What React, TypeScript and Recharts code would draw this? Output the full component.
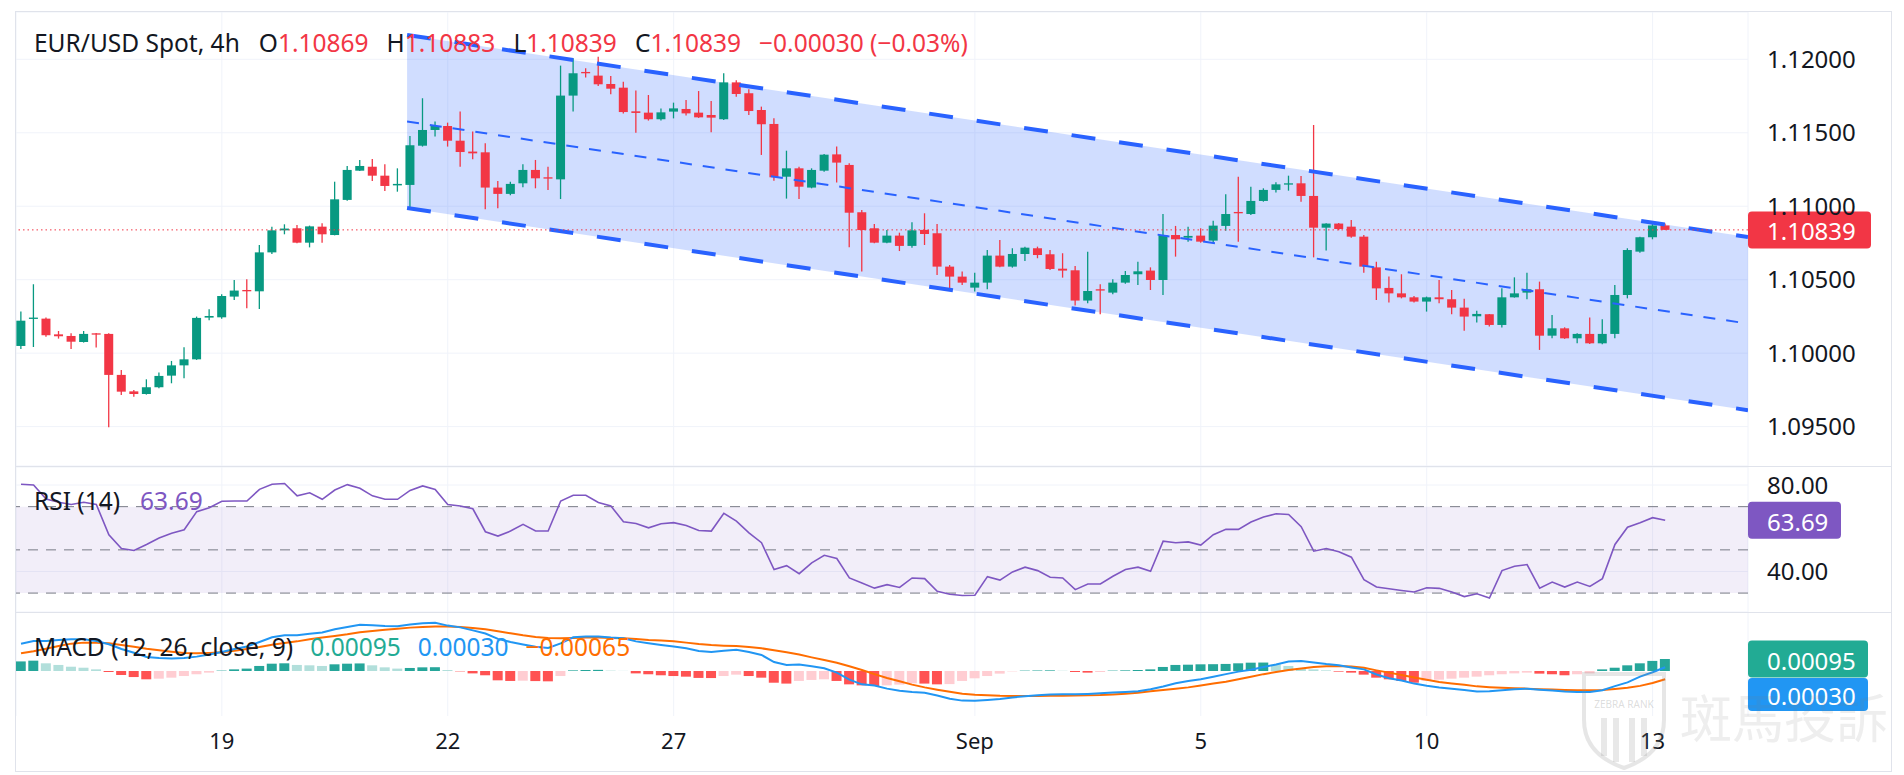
import React from 'react';
import {
  ComposedChart, Bar, Line, Area, XAxis, YAxis, CartesianGrid,
  ReferenceLine, ReferenceArea, Cell,
} from 'recharts';

// EUR/USD 4h candles, one per bar index (0 = first visible bar, 131 = last)
const opens = [
  1.10049, 1.10233, 1.10235, 1.10128, 1.10117, 1.10076, 1.10135, 1.10131, 1.09852, 1.09740,
  1.09722, 1.09768, 1.09847, 1.09917, 1.09958, 1.10242, 1.10244, 1.10385, 1.10430, 1.10421,
  1.10686, 1.10836, 1.10850, 1.10752, 1.10861, 1.10804, 1.11043, 1.11242, 1.11269, 1.11208,
  1.11142, 1.11145, 1.11412, 1.11519, 1.11546, 1.11446, 1.11372, 1.11367, 1.11127, 1.11084,
  1.11156, 1.11247, 1.11197, 1.11183, 1.11753, 1.11914, 1.11889, 1.11832, 1.11807, 1.11646,
  1.11637, 1.11592, 1.11644, 1.11662, 1.11637, 1.11621, 1.11592, 1.11843, 1.11769, 1.11655,
  1.11560, 1.11201, 1.11258, 1.11127, 1.11242, 1.11353, 1.11281, 1.10959, 1.10850, 1.10752,
  1.10800, 1.10730, 1.10839, 1.10816, 1.10589, 1.10521, 1.10446, 1.10480, 1.10664, 1.10589,
  1.10675, 1.10714, 1.10673, 1.10575, 1.10564, 1.10358, 1.10435, 1.10412, 1.10480, 1.10537,
  1.10562, 1.10498, 1.10804, 1.10786, 1.10800, 1.10766, 1.10866, 1.10961, 1.10947, 1.11036,
  1.11111, 1.11149, 1.11156, 1.11070, 1.10854, 1.10882, 1.10861, 1.10793, 1.10584, 1.10444,
  1.10407, 1.10380, 1.10351, 1.10380, 1.10367, 1.10310, 1.10251, 1.10265, 1.10192, 1.10380,
  1.10412, 1.10435, 1.10119, 1.10169, 1.10101, 1.10131, 1.10067, 1.10131, 1.10396, 1.10691,
  1.10789, 1.10869,
];
const highs = [
  1.10283, 1.10469, 1.10242, 1.10151, 1.10135, 1.10151, 1.10137, 1.10135, 1.09886, 1.09750,
  1.09822, 1.09868, 1.09947, 1.10040, 1.10249, 1.10299, 1.10401, 1.10498, 1.10503, 1.10736,
  1.10861, 1.10877, 1.10872, 1.10868, 1.10884, 1.11167, 1.11274, 1.11315, 1.11322, 1.11285,
  1.11258, 1.11478, 1.11735, 1.11576, 1.11569, 1.11644, 1.11508, 1.11428, 1.11172, 1.11167,
  1.11285, 1.11315, 1.11269, 1.11957, 1.12007, 1.11939, 1.12018, 1.11887, 1.11848, 1.11787,
  1.11757, 1.11666, 1.11705, 1.11723, 1.11784, 1.11716, 1.11905, 1.11857, 1.11796, 1.11678,
  1.11598, 1.11378, 1.11269, 1.11258, 1.11356, 1.11406, 1.11292, 1.10975, 1.10879, 1.10839,
  1.10820, 1.10891, 1.10952, 1.10879, 1.10600, 1.10555, 1.10548, 1.10702, 1.10770, 1.10714,
  1.10725, 1.10725, 1.10702, 1.10680, 1.10593, 1.10691, 1.10469, 1.10503, 1.10559, 1.10623,
  1.10584, 1.10947, 1.10866, 1.10861, 1.10850, 1.10902, 1.11081, 1.11201, 1.11133, 1.11122,
  1.11164, 1.11208, 1.11206, 1.11553, 1.10884, 1.10886, 1.10907, 1.10804, 1.10623, 1.10521,
  1.10537, 1.10389, 1.10385, 1.10498, 1.10430, 1.10371, 1.10289, 1.10267, 1.10441, 1.10516,
  1.10548, 1.10487, 1.10260, 1.10176, 1.10135, 1.10242, 1.10230, 1.10464, 1.10714, 1.10793,
  1.10880, 1.10883,
];
const lows = [
  1.10029, 1.10042, 1.10112, 1.10099, 1.10029, 1.10072, 1.10038, 1.09495, 1.09716, 1.09704,
  1.09718, 1.09761, 1.09795, 1.09829, 1.09954, 1.10224, 1.10235, 1.10362, 1.10305, 1.10301,
  1.10675, 1.10809, 1.10748, 1.10720, 1.10752, 1.10802, 1.11038, 1.11240, 1.11172, 1.11104,
  1.11099, 1.10975, 1.11406, 1.11474, 1.11406, 1.11269, 1.11319, 1.10979, 1.10986, 1.11074,
  1.11129, 1.11122, 1.11111, 1.11049, 1.11644, 1.11877, 1.11818, 1.11762, 1.11632, 1.11501,
  1.11583, 1.11583, 1.11598, 1.11617, 1.11601, 1.11503, 1.11587, 1.11746, 1.11621, 1.11349,
  1.11174, 1.11052, 1.11049, 1.11122, 1.11235, 1.11161, 1.10720, 1.10555, 1.10748, 1.10748,
  1.10695, 1.10718, 1.10736, 1.10532, 1.10441, 1.10464, 1.10419, 1.10435, 1.10584, 1.10582,
  1.10627, 1.10646, 1.10566, 1.10514, 1.10324, 1.10339, 1.10265, 1.10401, 1.10473, 1.10464,
  1.10430, 1.10396, 1.10657, 1.10759, 1.10752, 1.10748, 1.10834, 1.10759, 1.10941, 1.11031,
  1.11093, 1.11106, 1.11031, 1.10652, 1.10698, 1.10836, 1.10786, 1.10548, 1.10362, 1.10344,
  1.10373, 1.10344, 1.10283, 1.10339, 1.10265, 1.10153, 1.10208, 1.10181, 1.10174, 1.10378,
  1.10367, 1.10022, 1.10101, 1.10097, 1.10067, 1.10063, 1.10060, 1.10101, 1.10373, 1.10684,
  1.10775, 1.10839,
];
const closes = [
  1.10221, 1.10242, 1.10122, 1.10115, 1.10078, 1.10131, 1.10128, 1.09852, 1.09738, 1.09722,
  1.09768, 1.09845, 1.09917, 1.09958, 1.10240, 1.10253, 1.10389, 1.10426, 1.10421, 1.10686,
  1.10836, 1.10848, 1.10752, 1.10863, 1.10809, 1.11047, 1.11247, 1.11274, 1.11208, 1.11138,
  1.11152, 1.11415, 1.11519, 1.11546, 1.11446, 1.11369, 1.11360, 1.11127, 1.11084, 1.11152,
  1.11247, 1.11190, 1.11188, 1.11753, 1.11905, 1.11905, 1.11830, 1.11800, 1.11641, 1.11635,
  1.11592, 1.11639, 1.11666, 1.11632, 1.11605, 1.11603, 1.11843, 1.11764, 1.11648, 1.11558,
  1.11197, 1.11258, 1.11133, 1.11247, 1.11351, 1.11297, 1.10956, 1.10838, 1.10752, 1.10800,
  1.10730, 1.10836, 1.10811, 1.10589, 1.10521, 1.10480, 1.10480, 1.10664, 1.10589, 1.10675,
  1.10718, 1.10668, 1.10573, 1.10562, 1.10358, 1.10423, 1.10426, 1.10480, 1.10532, 1.10557,
  1.10498, 1.10804, 1.10775, 1.10798, 1.10759, 1.10868, 1.10947, 1.10952, 1.11036, 1.11111,
  1.11149, 1.11156, 1.11070, 1.10854, 1.10882, 1.10845, 1.10793, 1.10589, 1.10441, 1.10407,
  1.10380, 1.10351, 1.10380, 1.10367, 1.10310, 1.10249, 1.10267, 1.10192, 1.10380, 1.10407,
  1.10435, 1.10119, 1.10169, 1.10101, 1.10131, 1.10067, 1.10131, 1.10396, 1.10702, 1.10789,
  1.10869, 1.10839,
];

// RSI (14)
const rsiValues = [
  80.4, 80.0, 73.5, 72.0, 71.0, 72.0, 71.0, 57.0, 50.6, 49.7,
  52.5, 55.5, 57.7, 59.3, 67.7, 69.5, 72.5, 72.6, 72.6, 78.0,
  80.4, 80.7, 75.0, 76.4, 73.4, 77.7, 80.2, 78.5, 75.0, 73.4,
  73.4, 77.5, 79.6, 78.0, 71.0, 70.3, 69.0, 58.4, 56.4, 58.7,
  61.8, 58.7, 58.7, 72.6, 75.3, 75.3, 71.9, 70.3, 63.0, 62.2,
  60.2, 62.1, 62.6, 61.3, 59.0, 58.7, 66.9, 63.3, 57.9, 53.3,
  40.9, 42.7, 39.0, 44.0, 47.5, 46.0, 37.0, 34.7, 32.3, 33.9,
  32.6, 37.0, 36.7, 30.8, 29.5, 28.9, 29.0, 37.6, 36.0, 39.8,
  42.0, 40.4, 37.3, 37.0, 31.6, 34.2, 34.2, 37.8, 40.9, 42.0,
  40.1, 54.0, 53.3, 53.7, 52.2, 57.0, 59.5, 59.5, 62.9, 65.2,
  66.7, 66.4, 60.7, 49.4, 50.6, 49.1, 46.6, 36.2, 32.8, 32.0,
  31.2, 30.5, 32.5, 32.2, 30.5, 28.4, 29.7, 27.7, 40.4, 42.4,
  43.2, 32.3, 35.1, 32.8, 35.1, 33.1, 36.7, 52.5, 60.5, 62.6,
  64.9, 63.69,
];

// MACD (12, 26, close, 9), values in units of 0.001
const macdLine = [
  2.16, 2.38, 2.38, 2.46, 2.51, 2.51, 2.38, 2.12, 1.74, 1.45,
  1.11, 1.03, 1.00, 1.03, 1.14, 1.30, 1.51, 1.74, 1.94, 2.30,
  2.67, 2.83, 2.83, 2.96, 3.05, 3.31, 3.49, 3.67, 3.62, 3.57,
  3.55, 3.68, 3.78, 3.82, 3.60, 3.46, 3.22, 2.97, 2.55, 2.30,
  2.10, 1.92, 1.82, 2.19, 2.67, 2.73, 2.74, 2.65, 2.60, 2.35,
  2.20, 2.07, 1.95, 1.80, 1.59, 1.50, 1.61, 1.69, 1.50, 1.27,
  0.71, 0.48, 0.51, 0.37, 0.21, -0.13, -0.69, -1.06, -1.15, -1.40,
  -1.57, -1.66, -1.72, -1.95, -2.20, -2.35, -2.36, -2.30, -2.22, -2.10,
  -2.00, -1.92, -1.87, -1.85, -1.85, -1.82, -1.77, -1.71, -1.66, -1.61,
  -1.45, -1.23, -0.98, -0.79, -0.65, -0.45, -0.25, -0.05, 0.10, 0.32,
  0.52, 0.75, 0.79, 0.68, 0.55, 0.45, 0.28, 0.13, -0.28, -0.58,
  -0.75, -1.00, -1.17, -1.30, -1.40, -1.50, -1.62, -1.60, -1.52, -1.45,
  -1.40, -1.48, -1.55, -1.63, -1.66, -1.67, -1.52, -1.20, -0.90, -0.45,
  -0.10, 0.30,
];
const signalLine = [
  1.40, 1.56, 1.77, 1.98, 2.17, 2.25, 2.25, 2.20, 2.06, 1.93,
  1.77, 1.64, 1.53, 1.43, 1.40, 1.43, 1.48, 1.61, 1.75, 1.90,
  2.09, 2.22, 2.35, 2.51, 2.65, 2.78, 2.91, 3.07, 3.17, 3.28,
  3.36, 3.44, 3.49, 3.52, 3.52, 3.49, 3.41, 3.31, 3.15, 2.99,
  2.83, 2.70, 2.62, 2.59, 2.62, 2.65, 2.65, 2.62, 2.59, 2.54,
  2.46, 2.41, 2.35, 2.25, 2.14, 2.06, 2.01, 1.98, 1.90, 1.80,
  1.64, 1.48, 1.30, 1.08, 0.87, 0.66, 0.37, 0.08, -0.25, -0.55,
  -0.82, -1.08, -1.30, -1.48, -1.65, -1.80, -1.88, -1.93, -1.97, -1.98,
  -1.98, -1.98, -1.97, -1.96, -1.94, -1.93, -1.91, -1.86, -1.80, -1.72,
  -1.60, -1.50, -1.40, -1.30, -1.15, -1.00, -0.85, -0.65, -0.45, -0.25,
  -0.08, 0.08, 0.20, 0.32, 0.38, 0.40, 0.35, 0.25, 0.05, -0.13,
  -0.32, -0.52, -0.70, -0.88, -1.00, -1.10, -1.22, -1.28, -1.33, -1.36,
  -1.40, -1.44, -1.47, -1.50, -1.53, -1.53, -1.50, -1.42, -1.32, -1.18,
  -0.95, -0.65,
];
const histogram = [
  0.76, 0.82, 0.61, 0.48, 0.34, 0.26, 0.13, -0.08, -0.32, -0.48,
  -0.66, -0.61, -0.53, -0.40, -0.26, -0.13, 0.03, 0.13, 0.19, 0.40,
  0.58, 0.61, 0.48, 0.45, 0.40, 0.53, 0.58, 0.60, 0.45, 0.29,
  0.19, 0.24, 0.29, 0.30, 0.08, -0.03, -0.19, -0.34, -0.74, -0.79,
  -0.77, -0.80, -0.82, -0.40, 0.05, 0.08, 0.09, 0.03, 0.01, -0.19,
  -0.26, -0.34, -0.40, -0.45, -0.55, -0.56, -0.40, -0.29, -0.40, -0.53,
  -0.93, -1.00, -0.79, -0.71, -0.66, -0.79, -1.06, -1.14, -1.19, -1.14,
  -1.08, -0.98, -1.00, -1.06, -1.04, -0.79, -0.58, -0.40, -0.21, -0.03,
  0.03, 0.04, 0.05, 0.02, -0.08, -0.13, -0.08, 0.03, 0.05, 0.08,
  0.13, 0.32, 0.48, 0.50, 0.53, 0.54, 0.56, 0.61, 0.66, 0.67,
  0.53, 0.40, 0.24, 0.13, 0.05, -0.05, -0.13, -0.29, -0.53, -0.66,
  -0.79, -0.93, -0.79, -0.69, -0.61, -0.53, -0.45, -0.34, -0.26, -0.19,
  -0.13, -0.21, -0.26, -0.34, -0.26, -0.19, 0.13, 0.26, 0.45, 0.61,
  0.80, 0.95,
];

// time axis: bar index where each day label sits
const dayTicks = [16, 34, 52, 76, 94, 112, 130];
const dayLabels = ['19', '22', '27', 'Sep', '5', '10', '13'];
const priceTicks = [1.095, 1.1, 1.105, 1.11, 1.115, 1.12];
const rsiTicks = [40, 80];
const rsiLevels = [70, 50, 30];

// descending channel drawing (start bar, end bar)
const channelX = [30.76, 137.6];
const channelUpper = [1.12166, 1.1079];
const channelMid = [1.11577, 1.10201];
const channelLower = [1.10988, 1.09612];

const lastPrice = 1.10839;
const lastRsi = 63.69;
const lastHist = 0.95;

const UP = '#089981';
const DOWN = '#F23645';
const BLUE = '#2962FF';
const TEXT = '#131722';
const GRID = '#F0F3FA';
const BORDER = '#E0E3EB';
const FONT = '"Noto Sans", "Open Sans", sans-serif';
const X_DOMAIN: [number, number] = [-0.4, 137.6];

const candleRows = opens.map((open, i) => ({ x: i, open, high: highs[i], low: lows[i], close: closes[i] }));
const channelRows = channelX.map((x, k) => ({
  x,
  band: [channelLower[k], channelUpper[k]],
  upper: channelUpper[k],
  mid: channelMid[k],
  lower: channelLower[k],
}));
const mainRows: any[] = [...candleRows, ...channelRows].sort((a, b) => a.x - b.x);
const rsiRows = rsiValues.map((rsi, i) => ({ x: i, rsi }));
const macdRows = macdLine.map((macd, i) => ({ x: i, macd, signal: signalLine[i], hist: histogram[i] }));

const histColor = (i: number) => {
  const v = histogram[i];
  const prev = i > 0 ? histogram[i - 1] : v;
  if (v >= 0) return v >= prev ? '#26A69A' : '#B2DFDB';
  return v <= prev ? '#FF5252' : '#FFCDD2';
};

const Candle = (props: any) => {
  const { x, y, width, height, payload } = props;
  if (!payload || payload.open == null) return null;
  const { open, close, high, low } = payload;
  const top = Math.min(y, y + height);
  const h = Math.abs(height);
  const k = h / (high - low);
  const cx = x + width / 2;
  const yO = top + (high - open) * k;
  const yC = top + (high - close) * k;
  const color = close >= open ? UP : DOWN;
  return (
    <g>
      <line x1={cx} x2={cx} y1={top} y2={top + h} stroke={color} strokeWidth={1.3} />
      <rect x={cx - 4.5} y={Math.min(yO, yC)} width={9} height={Math.max(1.3, Math.abs(yO - yC))} fill={color} />
    </g>
  );
};

const badge = (text: string, fill: string, w: number) => (props: any) => {
  const { x, y, width } = props.viewBox;
  return (
    <g>
      <rect x={x + width} y={y - 18.5} width={w} height={37} rx={4} fill={fill} />
      <text x={x + width + 19} y={y + 1} dominantBaseline="central" fill="#fff" fontSize={24} fontFamily={FONT}>{text}</text>
    </g>
  );
};

const macdBadges = (props: any) => {
  const { x, y, width } = props.viewBox;
  return (
    <g>
      <rect x={x + width} y={y - 18.5} width={120} height={37} rx={4} fill="#22AB94" />
      <text x={x + width + 19} y={y + 1} dominantBaseline="central" fill="#fff" fontSize={24} fontFamily={FONT}>0.00095</text>
      <rect x={x + width} y={y + 19} width={120} height={33} rx={4} fill="#2196F3" />
      <text x={x + width + 19} y={y + 36} dominantBaseline="central" fill="#fff" fontSize={24} fontFamily={FONT}>0.00030</text>
    </g>
  );
};

const legendStyle: React.CSSProperties = {
  position: 'absolute', left: 34, fontSize: 24.5, lineHeight: '24px', color: TEXT, whiteSpace: 'nowrap',
};

export default function App() {
  const red = { color: DOWN };
  return (
    <div style={{ position: 'absolute', left: 0, top: 0, width: 1904, height: 775, background: '#fff', overflow: 'hidden', fontFamily: FONT }}>
      <div style={{ position: 'absolute', left: 15, top: 11, width: 1877, height: 761, border: `1px solid ${BORDER}`, boxSizing: 'border-box' }} />
      <div style={{ position: 'absolute', left: 16, top: 466, width: 1876, height: 1, background: BORDER }} />
      <div style={{ position: 'absolute', left: 16, top: 612, width: 1876, height: 1, background: BORDER }} />

      {/* price pane */}
      <div style={{ position: 'absolute', left: 16, top: 12 }}>
        <ComposedChart width={1876} height={454} data={mainRows} margin={{ top: 0, right: 0, bottom: 0, left: 0 }}>
          <CartesianGrid stroke={GRID} />
          <XAxis dataKey="x" type="number" domain={X_DOMAIN} allowDataOverflow ticks={dayTicks} hide />
          <YAxis
            orientation="right" width={144} domain={[1.09232, 1.12322]} allowDataOverflow ticks={priceTicks}
            tickFormatter={(v: number) => v.toFixed(5)} axisLine={false} tickLine={false} tickMargin={13}
            tick={{ fontSize: 24, fill: TEXT, fontFamily: FONT }}
          />
          <Area dataKey="band" stroke="none" fill={BLUE} fillOpacity={0.22} connectNulls isAnimationActive={false} />
          <Line dataKey="upper" stroke={BLUE} strokeWidth={4} strokeDasharray="24 24" dot={false} connectNulls isAnimationActive={false} />
          <Line dataKey="lower" stroke={BLUE} strokeWidth={4} strokeDasharray="24 24" dot={false} connectNulls isAnimationActive={false} />
          <Line dataKey="mid" stroke={BLUE} strokeWidth={2} strokeDasharray="12 11" dot={false} connectNulls isAnimationActive={false} />
          <Bar dataKey={(d: any) => (d.open == null ? null : [d.low, d.high])} barSize={9} shape={<Candle />} isAnimationActive={false} />
          <ReferenceLine y={lastPrice} stroke={DOWN} strokeDasharray="1.5 3" label={badge('1.10839', DOWN, 123)} />
        </ComposedChart>
      </div>

      {/* RSI pane */}
      <div style={{ position: 'absolute', left: 16, top: 467 }}>
        <ComposedChart width={1876} height={145} data={rsiRows} margin={{ top: 0, right: 0, bottom: 0, left: 0 }}>
          <CartesianGrid stroke={GRID} />
          <XAxis dataKey="x" type="number" domain={X_DOMAIN} allowDataOverflow ticks={dayTicks} hide />
          <YAxis
            orientation="right" width={144} domain={[21.25, 88.35]} allowDataOverflow ticks={rsiTicks}
            tickFormatter={(v: number) => v.toFixed(2)} axisLine={false} tickLine={false} tickMargin={13}
            tick={{ fontSize: 24, fill: TEXT, fontFamily: FONT }}
          />
          <ReferenceArea y1={30} y2={70} fill="#7E57C2" fillOpacity={0.1} stroke="none" />
          {rsiLevels.map((v) => (
            <ReferenceLine key={'r' + v} y={v} stroke="#787B86" strokeDasharray="10 8" />
          ))}
          <Line dataKey="rsi" stroke="#7E57C2" strokeWidth={1.6} dot={false} isAnimationActive={false} />
          <ReferenceLine y={lastRsi} stroke="none" label={badge('63.69', '#7E57C2', 93)} />
        </ComposedChart>
      </div>

      {/* MACD pane + time axis */}
      <div style={{ position: 'absolute', left: 16, top: 613 }}>
        <ComposedChart width={1876} height={159} data={macdRows} margin={{ top: 0, right: 144, bottom: 0, left: 0 }}>
          <CartesianGrid horizontal={false} stroke={GRID} />
          <XAxis
            dataKey="x" type="number" domain={X_DOMAIN} allowDataOverflow ticks={dayTicks} height={56}
            tickFormatter={(v: number) => dayLabels[dayTicks.indexOf(v)]} axisLine={false} tickLine={false} tickMargin={11}
            tick={{ fontSize: 22, fill: TEXT, fontFamily: FONT }}
          />
          <YAxis hide domain={[-3.57, 4.6]} allowDataOverflow />
          <Bar dataKey="hist" barSize={10} isAnimationActive={false}>
            {macdRows.map((r) => (
              <Cell key={'h' + r.x} fill={histColor(r.x)} />
            ))}
          </Bar>
          <Line dataKey="signal" stroke="#FF6D00" strokeWidth={2} dot={false} isAnimationActive={false} />
          <Line dataKey="macd" stroke="#2196F3" strokeWidth={2} dot={false} isAnimationActive={false} />
          <ReferenceLine y={lastHist} stroke="none" label={macdBadges} />
        </ComposedChart>
      </div>

      {/* legends */}
      <div style={{ ...legendStyle, top: 31 }}>
        EUR/USD Spot, 4h
        <span style={{ marginLeft: 19 }}>O</span><span style={red}>1.10869</span>
        <span style={{ marginLeft: 18 }}>H</span><span style={red}>1.10883</span>
        <span style={{ marginLeft: 18 }}>L</span><span style={red}>1.10839</span>
        <span style={{ marginLeft: 18 }}>C</span><span style={red}>1.10839</span>
        <span style={{ ...red, marginLeft: 18 }}>{'\u22120.00030 (\u22120.03%)'}</span>
      </div>
      <div style={{ ...legendStyle, top: 489 }}>
        RSI (14)<span style={{ color: '#7E57C2', marginLeft: 20 }}>63.69</span>
      </div>
      <div style={{ ...legendStyle, top: 635 }}>
        MACD (12, 26, close, 9)
        <span style={{ color: '#22AB94', marginLeft: 17 }}>0.00095</span>
        <span style={{ color: '#2196F3', marginLeft: 17 }}>0.00030</span>
        <span style={{ color: '#FF6D00', marginLeft: 17 }}>{'\u22120.00065'}</span>
      </div>

      {/* watermark */}
      <svg style={{ position: 'absolute', left: 1578, top: 668 }} width={92} height={104}>
        <path d="M6 6 L86 6 L86 52 Q86 86 46 100 Q6 86 6 52 Z" fill="none" stroke="rgba(140,140,140,0.22)" strokeWidth={4} />
        <text x={46} y={40} textAnchor="middle" fontSize={10} fontFamily={FONT} fill="rgba(140,140,140,0.3)">ZEBRA RANK</text>
        <path d="M26 50 L26 88 M38 50 L38 94 M54 50 L54 94 M66 50 L66 88" stroke="rgba(140,140,140,0.2)" strokeWidth={6} />
      </svg>
      <div style={{ position: 'absolute', left: 1680, top: 686, fontSize: 52, lineHeight: '60px', color: 'rgba(120,120,120,0.13)', fontFamily: '"Noto Sans CJK TC", sans-serif', letterSpacing: 0 }}>
        斑馬投訴
      </div>
    </div>
  );
}
